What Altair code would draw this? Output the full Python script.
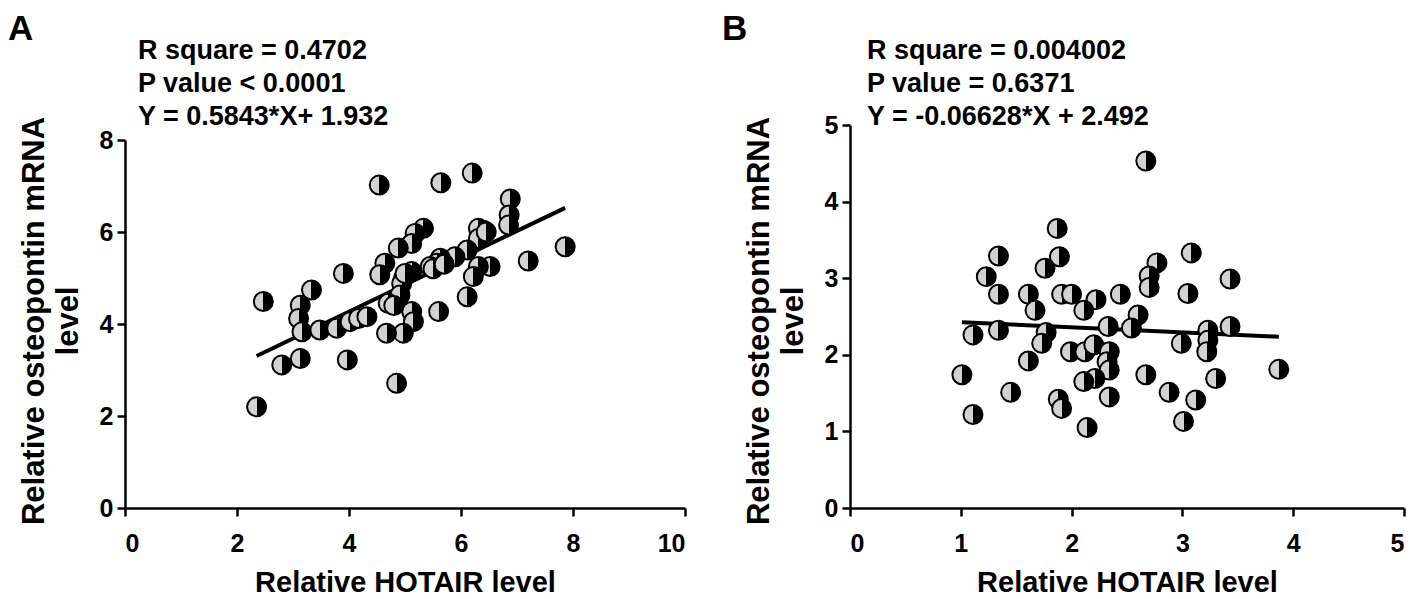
import altair as alt
import pandas as pd

FONT = "Liberation Sans"

# ---------------- data ----------------
a_x = [4.54, 5.64, 6.20, 6.88, 6.86, 6.85, 7.86, 7.20, 6.52, 6.31, 6.22, 6.11, 6.40, 6.31,
       6.31, 6.11, 5.89, 5.63, 5.57, 5.45, 5.33, 5.18, 5.12, 4.88, 4.64, 4.55, 5.12, 4.97,
       4.94, 4.91, 4.70, 5.12, 5.15, 4.97, 4.67, 5.60, 3.90, 3.33, 3.13, 3.10, 3.16, 3.48,
       3.78, 4.02, 4.17, 4.32, 2.47, 2.80, 3.13, 3.97, 4.85, 2.35, 5.50, 5.00, 6.45, 4.80, 5.70]
a_y = [7.02, 7.07, 7.28, 6.72, 6.37, 6.15, 5.68, 5.37, 5.25, 5.25, 5.03, 4.59, 6.04, 6.08,
       5.86, 5.61, 5.46, 5.43, 5.32, 5.25, 6.08, 5.97, 5.75, 5.65, 5.32, 5.07, 5.14, 4.99,
       4.88, 4.63, 4.45, 4.27, 4.05, 3.80, 3.80, 4.27, 5.10, 4.74, 4.41, 4.12, 3.83, 3.87,
       3.91, 4.05, 4.12, 4.16, 4.49, 3.11, 3.25, 3.22, 2.71, 2.20, 5.20, 5.10, 6.00, 4.40, 5.30]

b_x = [2.67, 1.87, 1.34, 1.89, 1.76, 1.23, 1.34, 1.61, 1.67, 1.91, 2.00, 2.22, 2.11, 2.44,
       2.77, 2.70, 2.70, 3.08, 3.05, 3.43, 3.43, 2.60, 2.54, 2.33, 1.34, 1.11, 1.77, 1.73,
       1.61, 1.99, 2.12, 2.20, 2.34, 2.32, 2.34, 2.21, 2.11, 2.99, 3.23, 3.23, 3.22, 1.01,
       2.67, 3.30, 3.87, 1.45, 1.88, 1.91, 2.34, 2.88, 3.12, 1.11, 2.14, 3.01]
b_y = [4.53, 3.65, 3.29, 3.28, 3.13, 3.02, 2.79, 2.79, 2.58, 2.79, 2.79, 2.72, 2.58, 2.79,
       3.20, 3.03, 2.88, 3.33, 2.80, 2.99, 2.37, 2.52, 2.35, 2.37, 2.32, 2.26, 2.29, 2.15,
       1.92, 2.04, 2.04, 2.13, 2.04, 1.91, 1.80, 1.69, 1.65, 2.15, 2.32, 2.19, 2.04, 1.74,
       1.74, 1.69, 1.81, 1.51, 1.42, 1.30, 1.45, 1.51, 1.41, 1.22, 1.05, 1.13]

a_fit = (0.5843, 1.932)
b_fit = (-0.06628, 2.492)

a_stats = ["R square = 0.4702", "P value < 0.0001", "Y = 0.5843*X+ 1.932"]
b_stats = ["R square = 0.004002", "P value = 0.6371", "Y = -0.06628*X + 2.492"]

a_xticks = [0, 2, 4, 6, 8, 10]
a_yticks = [0, 2, 4, 6, 8]
b_xticks = [0, 1, 2, 3, 4, 5]
b_yticks = [0, 1, 2, 3, 4, 5]

x_title = "Relative HOTAIR level"
y_title = ["Relative osteopontin mRNA", "level"]

H = 383

half_fill = alt.Gradient(
    gradient="linear", x1=0, x2=1, y1=0, y2=0,
    stops=[alt.GradientStop(color="#d2d2d2", offset=0),
           alt.GradientStop(color="#d2d2d2", offset=0.5),
           alt.GradientStop(color="#000000", offset=0.5),
           alt.GradientStop(color="#000000", offset=1)])


def panel(xs, ys, fit, stats, letter, xmax, xticks, ymax, yticks, width, ytop,
          letter_x, stats_x):
    pts = pd.DataFrame({"x": xs, "y": ys})
    x0, x1 = min(xs), max(xs)
    slope, icpt = fit
    fit_df = pd.DataFrame({"x": [x0, x1], "y": [slope * x0 + icpt, slope * x1 + icpt]})

    xs_ = alt.Scale(domain=[0, xmax], nice=False)
    ys_ = alt.Scale(domain=[0, ymax], nice=False, range=[H, ytop])
    xax = alt.Axis(values=xticks, format="d", title=x_title, titleX=width / 2, titleY=83,
                   titleFontSize=29, titleBaseline="alphabetic", labelPadding=15)
    yax = alt.Axis(values=yticks, format="d", title=None, labelPadding=4)

    line = alt.Chart(fit_df).mark_line(color="black", strokeWidth=4).encode(
        x=alt.X("x:Q", scale=xs_, axis=xax),
        y=alt.Y("y:Q", scale=ys_, axis=yax),
    )
    points = alt.Chart(pts).mark_point(
        shape="circle", filled=True, fill=half_fill, stroke="black",
        strokeWidth=2, size=361, opacity=1, fillOpacity=1, strokeOpacity=1
    ).encode(x="x:Q", y="y:Q")

    stats_txt = alt.Chart(pd.DataFrame({"t": ["\n".join(stats)]})).mark_text(
        font=FONT, fontWeight="bold", fontSize=27, align="left",
        baseline="alphabetic", lineBreak="\n", lineHeight=33, color="black"
    ).encode(text="t:N", x=alt.value(stats_x), y=alt.value(-66))

    letter_txt = alt.Chart(pd.DataFrame({"t": [letter]})).mark_text(
        font=FONT, fontWeight="bold", fontSize=35, align="left",
        baseline="top", color="black"
    ).encode(text="t:N", x=alt.value(letter_x), y=alt.value(-113))

    ytitle_layers = []
    for line_text, xoff in zip(y_title, [-90, -56]):
        ytitle_layers.append(
            alt.Chart(pd.DataFrame({"t": [line_text]})).mark_text(
                font=FONT, fontWeight="bold", fontSize=31, align="center",
                baseline="middle", angle=270, color="black"
            ).encode(text="t:N", x=alt.value(xoff), y=alt.value(196))
        )

    return alt.layer(line, points, stats_txt, letter_txt, *ytitle_layers).properties(
        width=width, height=H)


pa = panel(a_x, a_y, a_fit, a_stats, "A", 10, a_xticks, 8, a_yticks, 560, 15, -117, 13)
pb = panel(b_x, b_y, b_fit, b_stats, "B", 5, b_xticks, 5, b_yticks, 554, 0, -128, 17)

chart = alt.hconcat(pa, pb, spacing=35).properties(
    padding={"left": 0, "top": 4, "right": 0, "bottom": 0}, background="white"
).configure_view(stroke=None).configure_axis(
    grid=False, domainColor="black", domainWidth=2.5, tickColor="black",
    tickWidth=2.5, tickSize=8, labelFont=FONT, labelFontSize=25,
    labelFontWeight="bold", labelColor="black", titleFont=FONT,
    titleFontWeight="bold", titleColor="black"
)

chart.save("out.html", embed_options={"renderer": "svg", "actions": False})
